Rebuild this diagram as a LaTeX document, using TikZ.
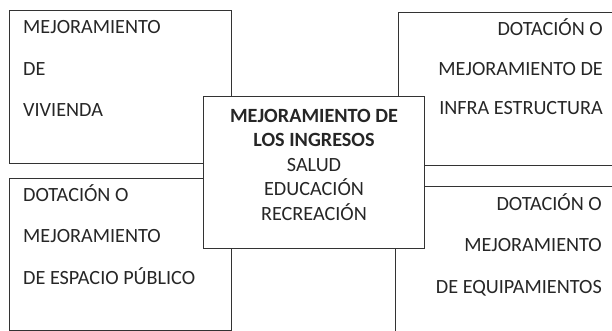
\documentclass[tikz,border=0pt]{standalone}
\usepackage{fontspec}
\setmainfont{Carlito}

\begin{document}
\begin{tikzpicture}[x=1pt,y=-1pt,
  box/.style={draw=black!80,line width=1.1pt,anchor=north west,inner sep=0pt},
  txt/.style={text=black!85,font=\fontsize{20.2}{41.5}\selectfont,inner sep=0pt}]
\clip (0,0) rectangle (612,331);
\node[box,minimum width=222pt,minimum height=153pt] (Viv) at (9,10) {};
\node[box,minimum width=240pt,minimum height=153pt] (Infra) at (398,12) {};
\node[box,minimum width=222pt,minimum height=152pt] (Esp) at (9,178) {};
\node[box,minimum width=240pt,minimum height=160pt] (Equip) at (395,186) {};

\node[txt,anchor=base west,align=left] (VivT) at (23,117) {MEJORAMIENTO\\DE\\VIVIENDA};
\node[txt,anchor=base east,align=right,font=\fontsize{20.2}{39.5}\selectfont] (InfraT) at (603,115) {DOTACIÓN O\\MEJORAMIENTO DE\\INFRA ESTRUCTURA};
\node[txt,anchor=base west,align=left] (EspT) at (23,284) {DOTACIÓN O\\MEJORAMIENTO\\DE ESPACIO PÚBLICO};
\node[txt,anchor=base east,align=right] (EquipT) at (602,293) {DOTACIÓN O\\MEJORAMIENTO\\DE EQUIPAMIENTOS};

\node[box,fill=white,minimum width=221pt,minimum height=152pt] (Ing) at (203,96) {};
\node[txt,anchor=base,align=center,font=\fontsize{20.2}{24.5}\selectfont] (IngT) at (314,220)
  {\textbf{MEJORAMIENTO DE}\\\textbf{LOS INGRESOS}\\SALUD\\EDUCACIÓN\\RECREACIÓN};
\end{tikzpicture}
\end{document}
